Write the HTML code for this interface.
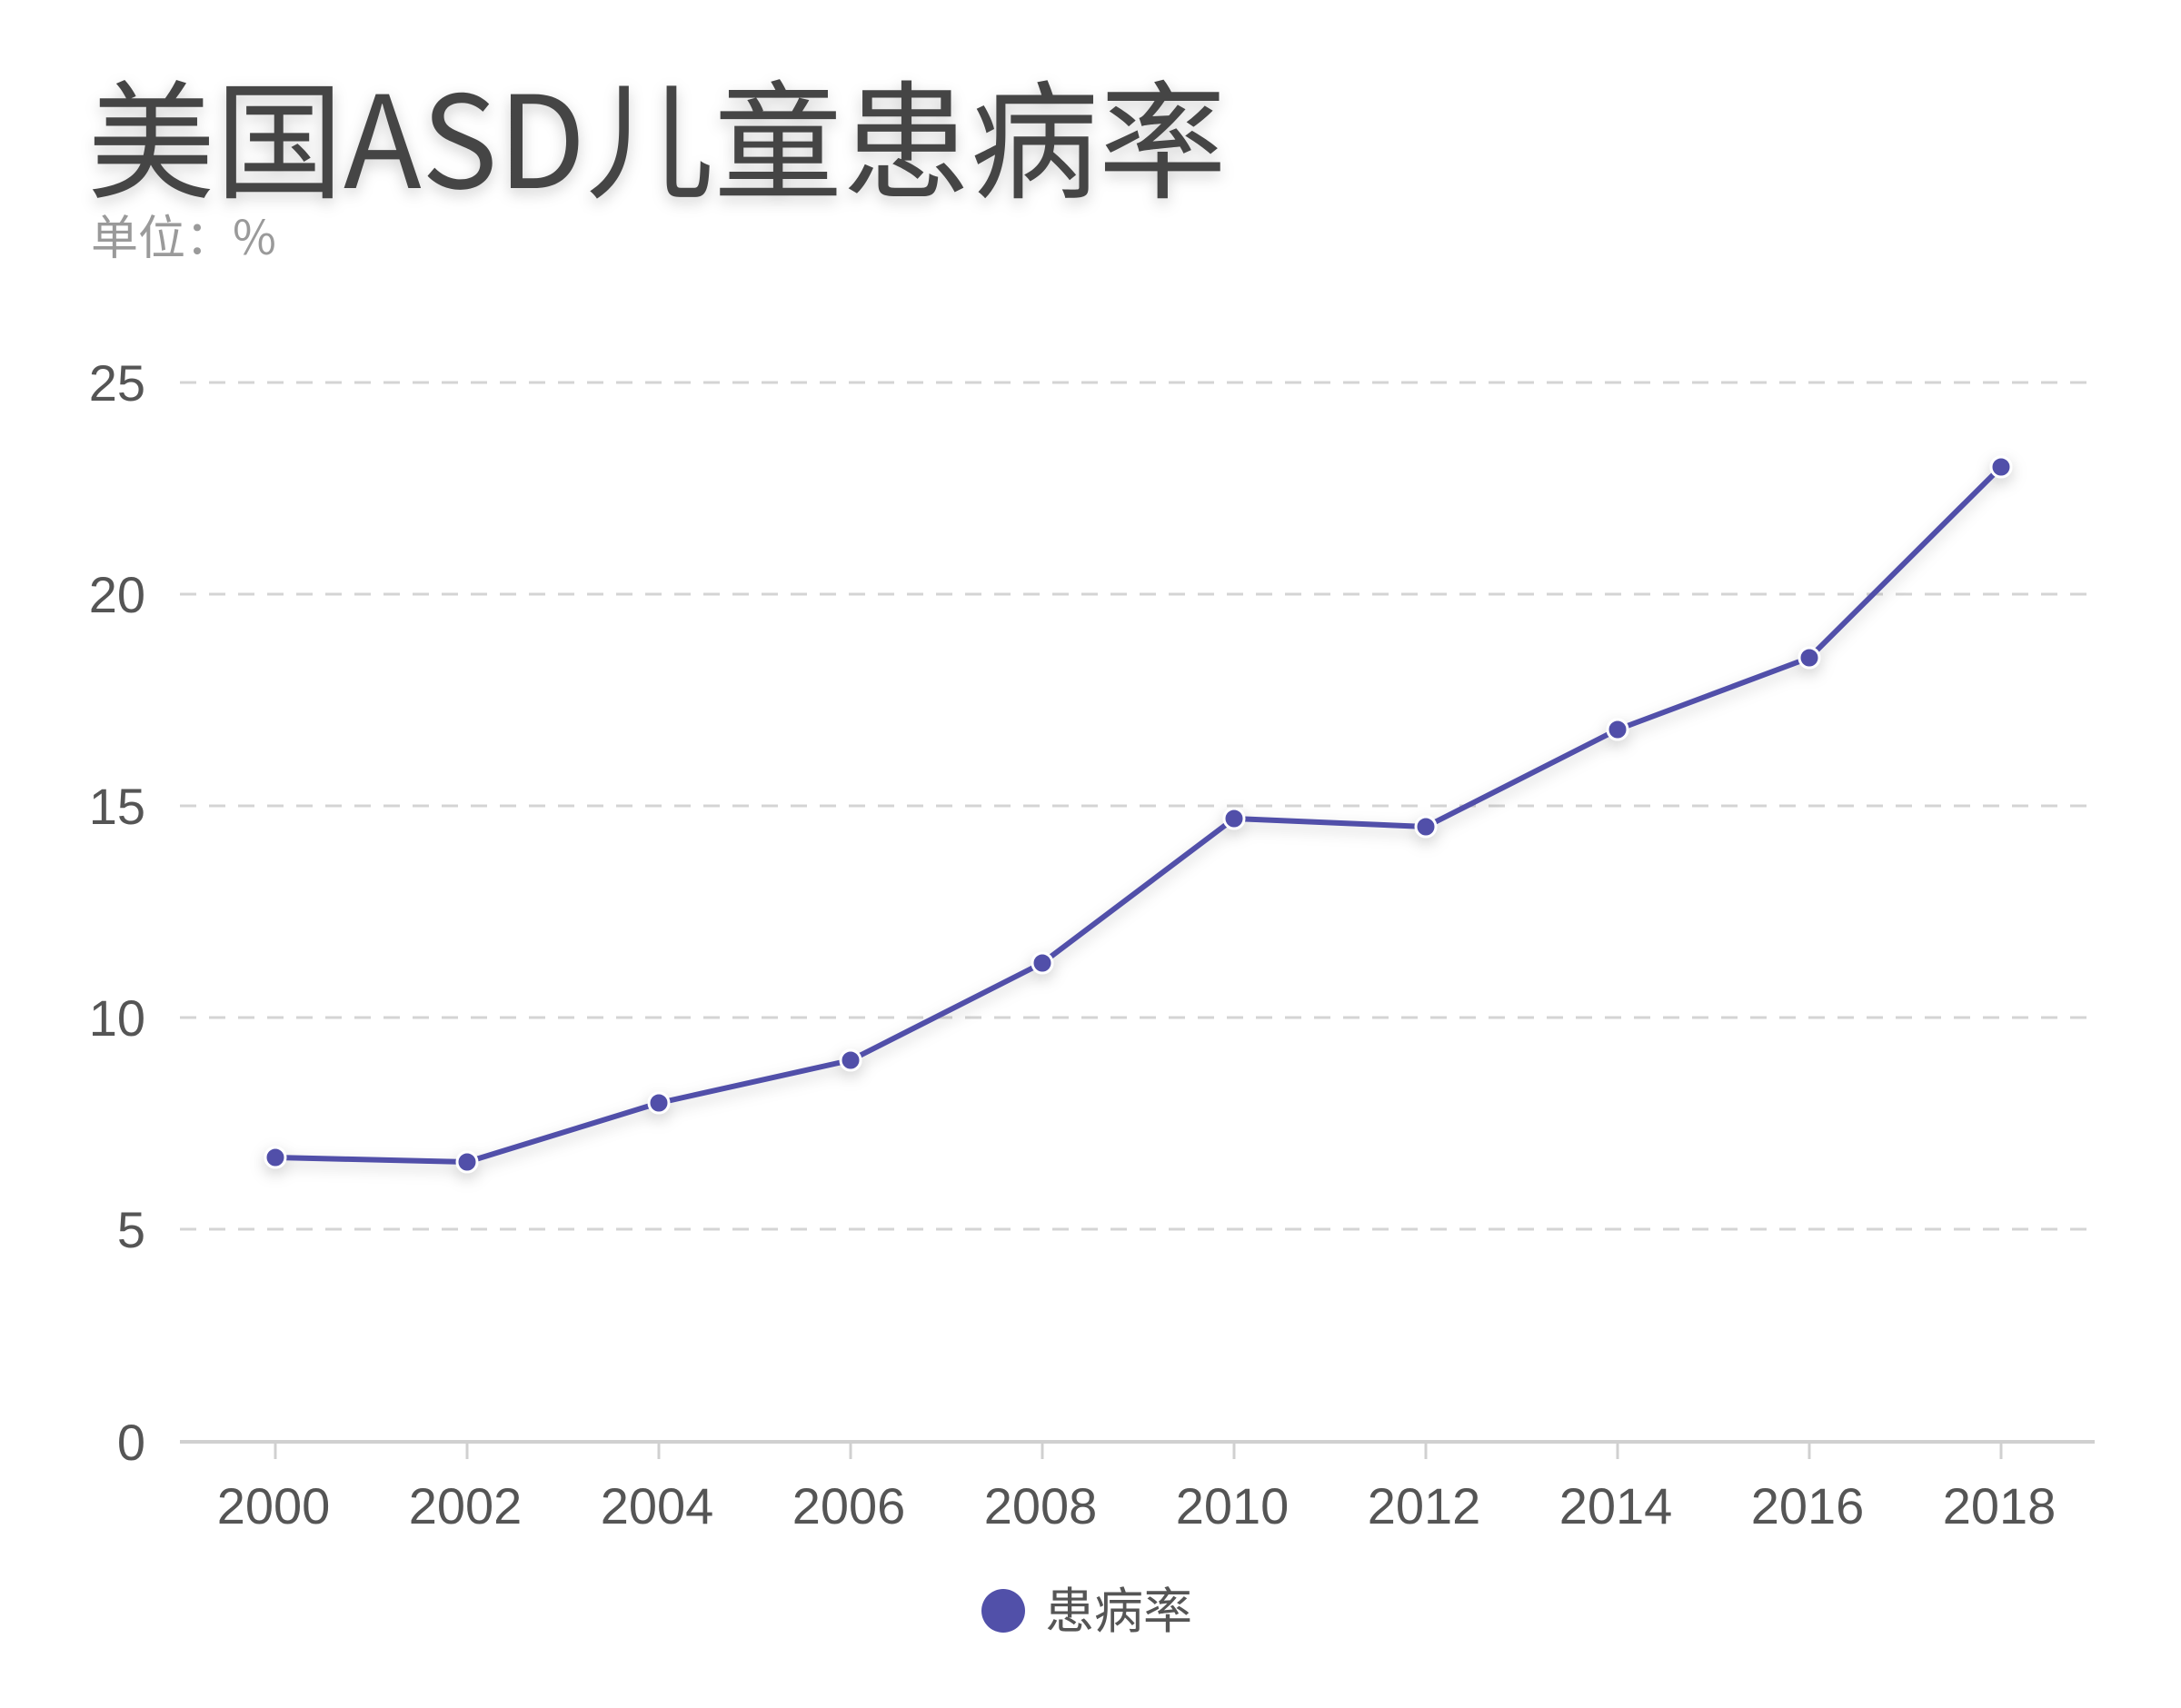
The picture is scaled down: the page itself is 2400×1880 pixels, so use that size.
<!DOCTYPE html>
<html><head><meta charset="utf-8"><style>
html,body{margin:0;padding:0;background:#fff;}
body{width:2400px;height:1880px;overflow:hidden;}
svg{display:block;}
text{font-family:"Liberation Sans","Noto Sans CJK SC",sans-serif;}
</style></head><body>
<svg width="2400" height="1880" viewBox="0 0 2400 1880" xmlns="http://www.w3.org/2000/svg">
<defs>
<filter id="sh" x="-20%" y="-20%" width="140%" height="160%"><feDropShadow dx="0" dy="6" stdDeviation="8" flood-color="#000" flood-opacity="0.18"/></filter>
</defs>
<text x="96" y="207" font-size="141" fill="#454545" filter="url(#sh)" style="font-family:'Noto Sans CJK SC',sans-serif">美国ASD儿童患病率</text>
<text x="100" y="280" font-size="52" fill="#9a9a9a" style="font-family:'Noto Sans CJK SC',sans-serif">单位：%</text>
<g stroke="#d4d4d4" stroke-width="3" stroke-dasharray="18 14">
<line x1="198" y1="421" x2="2300" y2="421"/>
<line x1="198" y1="654" x2="2300" y2="654"/>
<line x1="198" y1="887" x2="2300" y2="887"/>
<line x1="198" y1="1120" x2="2300" y2="1120"/>
<line x1="198" y1="1353" x2="2300" y2="1353"/>
</g>
<line x1="198" y1="1587" x2="2305" y2="1587" stroke="#d0d0d0" stroke-width="4"/>
<g stroke="#d0d0d0" stroke-width="3">
<line x1="303" y1="1587" x2="303" y2="1606"/><line x1="514" y1="1587" x2="514" y2="1606"/><line x1="725" y1="1587" x2="725" y2="1606"/><line x1="936" y1="1587" x2="936" y2="1606"/><line x1="1147" y1="1587" x2="1147" y2="1606"/><line x1="1358" y1="1587" x2="1358" y2="1606"/><line x1="1569" y1="1587" x2="1569" y2="1606"/><line x1="1780" y1="1587" x2="1780" y2="1606"/><line x1="1991" y1="1587" x2="1991" y2="1606"/><line x1="2202" y1="1587" x2="2202" y2="1606"/>
</g>
<g font-size="56" fill="#555" text-anchor="end">
<text x="160" y="441">25</text><text x="160" y="674">20</text><text x="160" y="907">15</text><text x="160" y="1140">10</text><text x="160" y="1373">5</text><text x="160" y="1607">0</text>
</g>
<g font-size="56" fill="#555" text-anchor="middle">
<text x="301" y="1677">2000</text><text x="512" y="1677">2002</text><text x="723" y="1677">2004</text><text x="934" y="1677">2006</text><text x="1145" y="1677">2008</text><text x="1356" y="1677">2010</text><text x="1567" y="1677">2012</text><text x="1778" y="1677">2014</text><text x="1989" y="1677">2016</text><text x="2200" y="1677">2018</text>
</g>
<g filter="url(#sh)">
<polyline fill="none" stroke="#5150a9" stroke-width="6" stroke-linejoin="round" points="303,1274 514,1279 725,1214 936,1167 1147,1060 1358,901 1569,910 1780,803 1991,724 2202,514"/>
<g fill="#5150a9" stroke="#fff" stroke-width="3">
<circle cx="303" cy="1274" r="11"/><circle cx="514" cy="1279" r="11"/><circle cx="725" cy="1214" r="11"/><circle cx="936" cy="1167" r="11"/><circle cx="1147" cy="1060" r="11"/><circle cx="1358" cy="901" r="11"/><circle cx="1569" cy="910" r="11"/><circle cx="1780" cy="803" r="11"/><circle cx="1991" cy="724" r="11"/><circle cx="2202" cy="514" r="11"/>
</g>
</g>
<circle cx="1104" cy="1773" r="24" fill="#5150a9"/>
<text x="1150" y="1792" font-size="54" fill="#555" style="font-family:'Noto Sans CJK SC',sans-serif">患病率</text>
</svg>
</body></html>
